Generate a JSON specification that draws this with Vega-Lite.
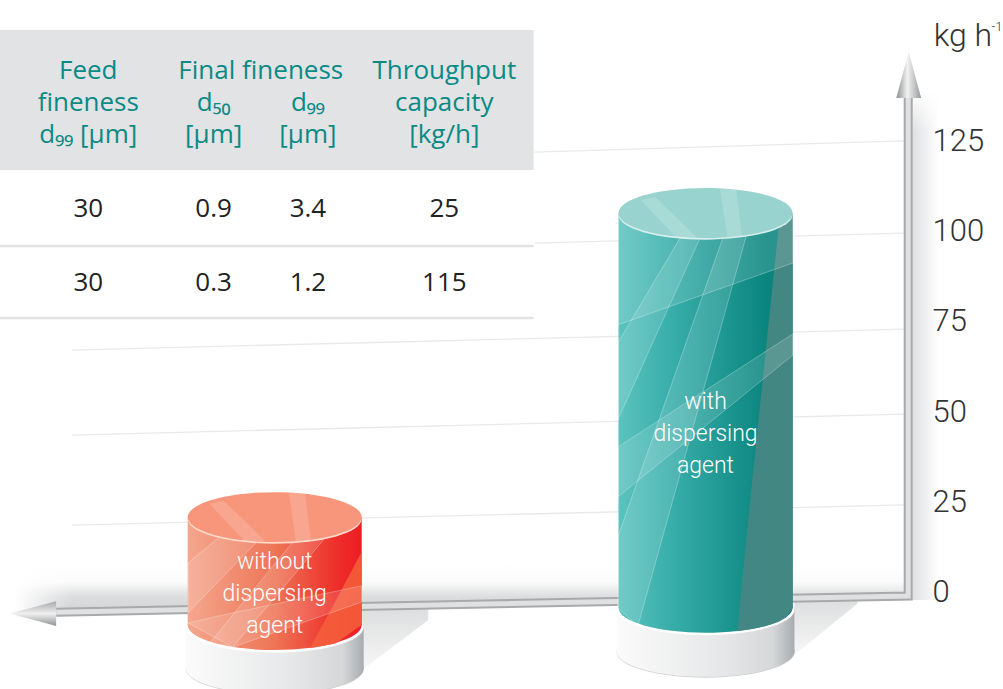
{"$schema":"https://vega.github.io/schema/vega-lite/v6.json","width":1003,"height":689,"autosize":{"type":"none"},"padding":0,"background":"white","config":{"view":{"stroke":null}},
"datasets":{
"cylinders":[{"sample":"without dispersing agent","throughput_shown":25,"top":20.8,"base":-9.2,"foot":-21.4,"label_at":8.3,"label":"without\ndispersing\nagent"},{"sample":"with dispersing agent","throughput_shown":115,"top":105.3,"base":-4.4,"foot":-16.7,"label_at":52.8,"label":"with\ndispersing\nagent"}],
"lightBands":[
{"band":"A","x":61.6,"top":69.2,"bottom":47.8},{"band":"A","x":67.8,"top":98.3,"bottom":86.1},{"band":"A","x":69.8,"top":98.3,"bottom":98.3},
{"band":"B","x":61.6,"top":15.3,"bottom":-4.4},{"band":"B","x":63.6,"top":31.1,"bottom":-9.4},{"band":"B","x":72.1,"top":98.6,"bottom":75.8},{"band":"B","x":74.4,"top":98.9,"bottom":98.9},
{"band":"C","x":61.6,"top":105.3,"bottom":74.2},{"band":"C","x":79.05,"top":105.3,"bottom":91.4},
{"band":"D","x":61.6,"top":40.3,"bottom":26.4},{"band":"D","x":79.05,"top":71.7,"bottom":65.8},
{"band":"F","x":18.75,"top":8.1,"bottom":-5.8},{"band":"F","x":21.9,"top":15.3,"bottom":3.3},{"band":"F","x":25.6,"top":13.9,"bottom":13.9},
{"band":"G","x":20.9,"top":-14.2,"bottom":-14.2},{"band":"G","x":23.2,"top":-6.4,"bottom":-15.3},{"band":"G","x":29.2,"top":13.9,"bottom":4.4},{"band":"G","x":32.4,"top":15,"bottom":15},
{"band":"H","x":18.75,"top":-8.6,"bottom":-8.6},{"band":"H","x":23.2,"top":-5.8,"bottom":-15.3},{"band":"H","x":36.05,"top":1.7,"bottom":-2.8}],
"lidBands":[
{"band":"S1","x":71.8,"top":111.9,"bottom":111.9},{"band":"S1","x":72.5,"top":111.9,"bottom":98.6},{"band":"S1","x":73.4,"top":111.9,"bottom":98.6},{"band":"S1","x":74,"top":98.6,"bottom":98.6},
{"band":"S2","x":63.9,"top":108.9,"bottom":108.9},{"band":"S2","x":65.3,"top":109.7,"bottom":104.7},{"band":"S2","x":67.5,"top":103.9,"bottom":98.3},{"band":"S2","x":69.5,"top":98.3,"bottom":98.3},
{"band":"S3","x":28.8,"top":27.5,"bottom":27.5},{"band":"S3","x":29.5,"top":27.5,"bottom":14.2},{"band":"S3","x":30.4,"top":27.5,"bottom":14.2},{"band":"S3","x":31,"top":14.2,"bottom":14.2},
{"band":"S4","x":20.9,"top":24.5,"bottom":24.5},{"band":"S4","x":22.3,"top":25.3,"bottom":20.3},{"band":"S4","x":24.5,"top":19.5,"bottom":13.9},{"band":"S4","x":26.5,"top":13.9,"bottom":13.9}],
"axisPath":[{"i":1,"x":5.6,"y":-5.6},{"i":2,"x":90.55,"y":-1.1},{"i":3,"x":90.55,"y":137.8}],
"tableText":[
{"x":8.8,"line":0,"text":"Feed"},{"x":8.8,"line":1,"text":"fineness"},{"x":8.8,"line":2,"text":"d₉₉ [µm]"},
{"x":26,"line":0,"text":"Final fineness"},{"x":21.3,"line":1,"text":"d₅₀"},{"x":21.3,"line":2,"text":"[µm]"},{"x":30.7,"line":1,"text":"d₉₉"},{"x":30.7,"line":2,"text":"[µm]"},
{"x":44.3,"line":0,"text":"Throughput"},{"x":44.3,"line":1,"text":"capacity"},{"x":44.3,"line":2,"text":"[kg/h]"}],
"tableRows":[
{"x":8.8,"line":4.31,"text":"30"},{"x":21.3,"line":4.31,"text":"0.9"},{"x":30.7,"line":4.31,"text":"3.4"},{"x":44.3,"line":4.31,"text":"25"},
{"x":8.8,"line":6.63,"text":"30"},{"x":21.3,"line":6.63,"text":"0.3"},{"x":30.7,"line":6.63,"text":"1.2"},{"x":44.3,"line":6.63,"text":"115"}]
},
"resolve":{"scale":{"x":"independent","y":"independent"},"axis":{"y":"independent"}},
"layer":[
{"layer":[
{"data":{"values":[{"x":1.5,"top":8,"bottom":-7},{"x":90.5,"top":8,"bottom":-1.1}]},"mark":{"type":"area","orient":"vertical","color":{"gradient":"linear","x1":0,"y1":0,"x2":0,"y2":1,"stops":[{"offset":0,"color":"#ffffff"},{"offset":0.35,"color":"#fbfbfb"},{"offset":0.62,"color":"#dcddde"},{"offset":1,"color":"#cfd0d1"}]}},"encoding":{"x":{"field":"x","type":"quantitative","axis":null,"scale":{"domain":[0,100],"range":[0,1003],"nice":false,"zero":false}},"y":{"field":"top","type":"quantitative","axis":null,"scale":{"domain":[-26.944,164.444],"range":[689,0],"nice":false,"zero":false}},"y2":{"field":"bottom"}}},
{"data":{"values":[{"x":1.4,"top":8.2,"bottom":-7.5},{"x":7,"top":8.2,"bottom":-7.5}]},"mark":{"type":"area","orient":"vertical","color":{"gradient":"linear","x1":0,"y1":0,"x2":1,"y2":0,"stops":[{"offset":0,"color":"#ffffff"},{"offset":1,"color":"rgba(255,255,255,0)"}]}},"encoding":{"x":{"field":"x","type":"quantitative","axis":null,"scale":{"domain":[0,100],"range":[0,1003],"nice":false,"zero":false}},"y":{"field":"top","type":"quantitative","axis":null,"scale":{"domain":[-26.944,164.444],"range":[689,0],"nice":false,"zero":false}},"y2":{"field":"bottom"}}},
{"data":{"values":[{"x":91,"top":139,"bottom":-2.2},{"x":93.6,"top":139,"bottom":-2.2}]},"mark":{"type":"area","orient":"vertical","color":{"gradient":"linear","x1":0,"y1":0,"x2":1,"y2":0,"stops":[{"offset":0,"color":"#dfe0e1"},{"offset":1,"color":"#ffffff"}]}},"encoding":{"x":{"field":"x","type":"quantitative","axis":null,"scale":{"domain":[0,100],"range":[0,1003],"nice":false,"zero":false}},"y":{"field":"top","type":"quantitative","axis":null,"scale":{"domain":[-26.944,164.444],"range":[689,0],"nice":false,"zero":false}},"y2":{"field":"bottom"}}},
{"data":{"values":[{"x":91,"top":139.5,"bottom":128},{"x":93.7,"top":139.5,"bottom":128}]},"mark":{"type":"area","orient":"vertical","color":{"gradient":"linear","x1":0,"y1":0,"x2":0,"y2":1,"stops":[{"offset":0,"color":"#ffffff"},{"offset":1,"color":"rgba(255,255,255,0)"}]}},"encoding":{"x":{"field":"x","type":"quantitative","axis":null,"scale":{"domain":[0,100],"range":[0,1003],"nice":false,"zero":false}},"y":{"field":"top","type":"quantitative","axis":null,"scale":{"domain":[-26.944,164.444],"range":[689,0],"nice":false,"zero":false}},"y2":{"field":"bottom"}}},
{"data":{"values":[{"band":"r","x":79.2,"top":-2.2,"bottom":-17.5},{"band":"r","x":85.5,"top":-2.6,"bottom":-3.2},{"band":"l","x":36.1,"top":-4.7,"bottom":-21.7},{"band":"l","x":42.7,"top":-4.7,"bottom":-7.8}]},"mark":{"type":"area","orient":"vertical","color":{"gradient":"linear","x1":0,"y1":0,"x2":0,"y2":1,"stops":[{"offset":0,"color":"#dddedf"},{"offset":1,"color":"#f7f7f7"}]}},"encoding":{"detail":{"field":"band"},"x":{"field":"x","type":"quantitative","axis":null,"scale":{"domain":[0,100],"range":[0,1003],"nice":false,"zero":false}},"y":{"field":"top","type":"quantitative","axis":null,"scale":{"domain":[-26.944,164.444],"range":[689,0],"nice":false,"zero":false}},"y2":{"field":"bottom"}}},
{"data":{"values":[{"tick":25,"end":7.2,"level":18.6},{"tick":25,"end":90.2,"level":24.2},{"tick":50,"end":7.2,"level":43.6},{"tick":50,"end":90.2,"level":49.4},{"tick":75,"end":7.2,"level":67.2},{"tick":75,"end":90.2,"level":73},{"tick":100,"end":53.3,"level":96.9},{"tick":100,"end":90.2,"level":99.7},{"tick":125,"end":53.3,"level":122.2},{"tick":125,"end":90.2,"level":125.3}]},"mark":{"type":"line","color":"#e8e9ea","strokeWidth":1.3},"encoding":{"detail":{"field":"tick"},"x":{"field":"end","type":"quantitative","axis":null,"scale":{"domain":[0,100],"range":[0,1003],"nice":false,"zero":false}},"y":{"field":"level","type":"quantitative","axis":null,"scale":{"domain":[-26.944,164.444],"range":[689,0],"nice":false,"zero":false}}}},
{"data":{"name":"axisPath"},"mark":{"type":"line","color":"#a7a9ab","strokeWidth":9,"strokeJoin":"miter"},"encoding":{"order":{"field":"i"},"x":{"field":"x","type":"quantitative","axis":null,"scale":{"domain":[0,100],"range":[0,1003],"nice":false,"zero":false}},"y":{"field":"y","type":"quantitative","axis":null,"scale":{"domain":[-26.944,164.444],"range":[689,0],"nice":false,"zero":false}}}},
{"data":{"name":"axisPath"},"mark":{"type":"line","color":"#dfe0e1","strokeWidth":5,"strokeJoin":"miter"},"encoding":{"order":{"field":"i"},"x":{"field":"x","type":"quantitative","axis":null,"scale":{"domain":[0,100],"range":[0,1003],"nice":false,"zero":false}},"y":{"field":"y","type":"quantitative","axis":null,"scale":{"domain":[-26.944,164.444],"range":[689,0],"nice":false,"zero":false}}}},
{"data":{"values":[{"x":90.6,"y":143.6}]},"mark":{"type":"point","filled":true,"opacity":1,"size":2116,"shape":"M0,-1 L0.54,1 L-0.54,1 Z","color":{"gradient":"linear","x1":0,"y1":0,"x2":1,"y2":0,"stops":[{"offset":0,"color":"#8b8d8f"},{"offset":0.45,"color":"#f2f2f2"},{"offset":1,"color":"#97999b"}]}},"encoding":{"x":{"field":"x","type":"quantitative","axis":null,"scale":{"domain":[0,100],"range":[0,1003],"nice":false,"zero":false}},"y":{"field":"y","type":"quantitative","axis":null,"scale":{"domain":[-26.944,164.444],"range":[689,0],"nice":false,"zero":false}}}},
{"data":{"values":[{"x":3.3,"y":-6}]},"mark":{"type":"point","filled":true,"opacity":1,"size":2116,"shape":"M-1,0 L1,-0.54 L1,0.54 Z","color":{"gradient":"linear","x1":0,"y1":0,"x2":0,"y2":1,"stops":[{"offset":0,"color":"#a4a6a8"},{"offset":0.5,"color":"#f0f0f0"},{"offset":1,"color":"#8f9193"}]}},"encoding":{"x":{"field":"x","type":"quantitative","axis":null,"scale":{"domain":[0,100],"range":[0,1003],"nice":false,"zero":false}},"y":{"field":"y","type":"quantitative","axis":null,"scale":{"domain":[-26.944,164.444],"range":[689,0],"nice":false,"zero":false}}}},
{"data":{"values":[{"x":96,"y":154.4,"text":"kg h","size":32},{"x":99.4,"y":157,"text":"-1","size":13}]},"mark":{"type":"text","font":"Roboto","fontWeight":300,"color":"#333333","baseline":"middle","align":"center"},"encoding":{"text":{"field":"text"},"size":{"field":"size","type":"quantitative","scale":null},"x":{"field":"x","type":"quantitative","axis":null,"scale":{"domain":[0,100],"range":[0,1003],"nice":false,"zero":false}},"y":{"field":"y","type":"quantitative","axis":null,"scale":{"domain":[-26.944,164.444],"range":[689,0],"nice":false,"zero":false}}}}
]},
{"data":{"values":[{"tick":0},{"tick":25},{"tick":50},{"tick":75},{"tick":100},{"tick":125}]},"mark":{"type":"point","opacity":0,"size":1},"encoding":{"y":{"field":"tick","type":"quantitative","scale":{"domain":[-26.944,164.444],"range":[689,0],"nice":false,"zero":false},"axis":{"orient":"right","zindex":1,"values":[0,25,50,75,100,125],"domain":false,"ticks":false,"grid":false,"title":null,"labelAlign":"left","labelPadding":-71,"labelFont":"Roboto","labelFontSize":31,"labelFontWeight":300,"labelColor":"#333333"}}}},
{"data":{"name":"cylinders"},"encoding":{"x":{"field":"sample","type":"nominal","axis":null,"scale":{"type":"point","padding":0,"domain":["without dispersing agent","with dispersing agent"],"range":[274.7,705.5]}}},"layer":[
{"mark":{"type":"point","filled":true,"opacity":1,"size":31684,"shape":"M-1,0 C-1,-0.158 -0.552,-0.287 0,-0.287 C0.552,-0.287 1,-0.158 1,0 C1,0.158 0.552,0.287 0,0.287 C-0.552,0.287 -1,0.158 -1,0 Z","color":"#cfd0d1"},"encoding":{"y":{"field":"foot","type":"quantitative","axis":null,"scale":{"domain":[-26.944,164.444],"range":[689,0],"nice":false,"zero":false}}}},
{"mark":{"type":"point","filled":true,"opacity":1,"size":31684,"shape":"M-1,-0.01 C-1,-0.168 -0.552,-0.297 0,-0.297 C0.552,-0.297 1,-0.168 1,-0.01 C1,0.148 0.552,0.277 0,0.277 C-0.552,0.277 -1,0.148 -1,-0.01 Z","color":{"gradient":"linear","x1":0,"y1":0,"x2":1,"y2":0,"stops":[{"offset":0,"color":"#fbfbfb"},{"offset":0.6,"color":"#e6e7e8"},{"offset":0.88,"color":"#d5d7d8"},{"offset":1,"color":"#a9acae"}]}},"encoding":{"y":{"field":"foot","type":"quantitative","axis":null,"scale":{"domain":[-26.944,164.444],"range":[689,0],"nice":false,"zero":false}}}},
{"mark":{"type":"bar","size":178,"color":{"gradient":"linear","x1":0,"y1":0,"x2":1,"y2":0,"stops":[{"offset":0,"color":"#fbfbfb"},{"offset":0.6,"color":"#e6e7e8"},{"offset":0.88,"color":"#d5d7d8"},{"offset":1,"color":"#a9acae"}]}},"encoding":{"y":{"field":"base","type":"quantitative","axis":null,"scale":{"domain":[-26.944,164.444],"range":[689,0],"nice":false,"zero":false}},"y2":{"field":"foot"}}},
{"mark":{"type":"point","filled":true,"opacity":1,"size":31684,"color":"#ffffff","shape":"M-1,0.02 C-1,-0.138 -0.552,-0.267 0,-0.267 C0.552,-0.267 1,-0.138 1,0.02 C1,0.178 0.552,0.307 0,0.307 C-0.552,0.307 -1,0.178 -1,0.02 Z"},"encoding":{"y":{"field":"base","type":"quantitative","axis":null,"scale":{"domain":[-26.944,164.444],"range":[689,0],"nice":false,"zero":false}}}},
{"transform":[{"filter":"datum.throughput_shown==25"}],"layer":[
{"mark":{"type":"point","filled":true,"opacity":1,"size":30276,"shape":"M-1,0 C-1,-0.158 -0.552,-0.287 0,-0.287 C0.552,-0.287 1,-0.158 1,0 C1,0.158 0.552,0.287 0,0.287 C-0.552,0.287 -1,0.158 -1,0 Z","color":{"gradient":"linear","x1":0,"y1":0,"x2":1,"y2":0,"stops":[{"offset":0,"color":"#f4a78e"},{"offset":0.5,"color":"#ee7556"},{"offset":0.85,"color":"#ee2f2a"},{"offset":1,"color":"#ed1c24"}]}},"encoding":{"y":{"field":"base","type":"quantitative","axis":null,"scale":{"domain":[-26.944,164.444],"range":[689,0],"nice":false,"zero":false}}}},
{"mark":{"type":"bar","size":174,"color":{"gradient":"linear","x1":0,"y1":0,"x2":1,"y2":0,"stops":[{"offset":0,"color":"#f4a78e"},{"offset":0.5,"color":"#ee7556"},{"offset":0.85,"color":"#ee2f2a"},{"offset":1,"color":"#ed1c24"}]}},"encoding":{"y":{"field":"top","type":"quantitative","axis":null,"scale":{"domain":[-26.944,164.444],"range":[689,0],"nice":false,"zero":false}},"y2":{"field":"base"}}}
]},
{"transform":[{"filter":"datum.throughput_shown==115"}],"layer":[
{"mark":{"type":"point","filled":true,"opacity":1,"size":30276,"shape":"M-1,0 C-1,-0.158 -0.552,-0.287 0,-0.287 C0.552,-0.287 1,-0.158 1,0 C1,0.158 0.552,0.287 0,0.287 C-0.552,0.287 -1,0.158 -1,0 Z","color":{"gradient":"linear","x1":0,"y1":0,"x2":1,"y2":0,"stops":[{"offset":0,"color":"#5cc3be"},{"offset":0.3,"color":"#38aeaa"},{"offset":0.85,"color":"#0a857e"},{"offset":1,"color":"#0a7f78"}]}},"encoding":{"y":{"field":"base","type":"quantitative","axis":null,"scale":{"domain":[-26.944,164.444],"range":[689,0],"nice":false,"zero":false}}}},
{"mark":{"type":"bar","size":174,"color":{"gradient":"linear","x1":0,"y1":0,"x2":1,"y2":0,"stops":[{"offset":0,"color":"#5cc3be"},{"offset":0.3,"color":"#38aeaa"},{"offset":0.85,"color":"#0a857e"},{"offset":1,"color":"#0a7f78"}]}},"encoding":{"y":{"field":"top","type":"quantitative","axis":null,"scale":{"domain":[-26.944,164.444],"range":[689,0],"nice":false,"zero":false}},"y2":{"field":"base"}}}
]}
]},
{"encoding":{"detail":{"field":"band"},"x":{"field":"x","type":"quantitative","axis":null,"scale":{"domain":[0,100],"range":[0,1003],"nice":false,"zero":false}},"y":{"field":"top","type":"quantitative","axis":null,"scale":{"domain":[-26.944,164.444],"range":[689,0],"nice":false,"zero":false}},"y2":{"field":"bottom"}},"layer":[
{"data":{"values":[{"band":"E","x":73.5,"top":-10.9,"bottom":-10.9},{"band":"E","x":75,"top":31.1,"bottom":-10.3},{"band":"E","x":76.3,"top":65.8,"bottom":-9.5},{"band":"E","x":77.6,"top":100.6,"bottom":-8.3},{"band":"E","x":78.4,"top":103,"bottom":-7},{"band":"E","x":79.05,"top":105.3,"bottom":-4.4}]},"mark":{"type":"area","orient":"vertical","color":"#468783","opacity":0.95}},
{"data":{"values":[{"band":"I","x":30.9,"top":-15.6,"bottom":-15.6},{"band":"I","x":33.4,"top":-2.8,"bottom":-14.4},{"band":"I","x":36.05,"top":11.1,"bottom":-9.2}]},"mark":{"type":"area","orient":"vertical","color":"#f4603c","opacity":0.85}},
{"data":{"name":"lightBands"},"mark":{"type":"area","orient":"vertical","fill":"#ffffff","fillOpacity":0.13,"stroke":"#ffffff","strokeOpacity":0.4,"strokeWidth":0.7}}
]},
{"data":{"name":"cylinders"},"encoding":{"x":{"field":"sample","type":"nominal","axis":null,"scale":{"type":"point","padding":0,"domain":["without dispersing agent","with dispersing agent"],"range":[274.7,705.5]}},"y":{"field":"top","type":"quantitative","axis":null,"scale":{"domain":[-26.944,164.444],"range":[689,0],"nice":false,"zero":false}}},"layer":[
{"transform":[{"filter":"datum.throughput_shown==25"}],"layer":[
{"mark":{"type":"point","filled":true,"opacity":1,"size":30276,"color":"#fcd9cb","shape":"M-1,0.02 C-1,-0.138 -0.552,-0.267 0,-0.267 C0.552,-0.267 1,-0.138 1,0.02 C1,0.178 0.552,0.307 0,0.307 C-0.552,0.307 -1,0.178 -1,0.02 Z"}},
{"mark":{"type":"point","filled":true,"opacity":1,"size":30276,"shape":"M-1,0 C-1,-0.158 -0.552,-0.287 0,-0.287 C0.552,-0.287 1,-0.158 1,0 C1,0.158 0.552,0.287 0,0.287 C-0.552,0.287 -1,0.158 -1,0 Z","color":"#f8967b"}}
]},
{"transform":[{"filter":"datum.throughput_shown==115"}],"layer":[
{"mark":{"type":"point","filled":true,"opacity":1,"size":30276,"color":"#d6eeec","shape":"M-1,0.02 C-1,-0.138 -0.552,-0.267 0,-0.267 C0.552,-0.267 1,-0.138 1,0.02 C1,0.178 0.552,0.307 0,0.307 C-0.552,0.307 -1,0.178 -1,0.02 Z"}},
{"mark":{"type":"point","filled":true,"opacity":1,"size":30276,"shape":"M-1,0 C-1,-0.158 -0.552,-0.287 0,-0.287 C0.552,-0.287 1,-0.158 1,0 C1,0.158 0.552,0.287 0,0.287 C-0.552,0.287 -1,0.158 -1,0 Z","color":"#98d3cf"}}
]}
]},
{"data":{"name":"lidBands"},"mark":{"type":"area","orient":"vertical","color":"#ffffff","opacity":0.16},"encoding":{"detail":{"field":"band"},"x":{"field":"x","type":"quantitative","axis":null,"scale":{"domain":[0,100],"range":[0,1003],"nice":false,"zero":false}},"y":{"field":"top","type":"quantitative","axis":null,"scale":{"domain":[-26.944,164.444],"range":[689,0],"nice":false,"zero":false}},"y2":{"field":"bottom"}}},
{"data":{"name":"cylinders"},"mark":{"type":"text","font":"Roboto","fontWeight":300,"fontSize":23,"color":"#ffffff","lineBreak":"\n","lineHeight":32,"align":"center","baseline":"middle"},"encoding":{"text":{"field":"label"},"x":{"field":"sample","type":"nominal","axis":null,"scale":{"type":"point","padding":0,"domain":["without dispersing agent","with dispersing agent"],"range":[274.7,705.5]}},"y":{"field":"label_at","type":"quantitative","axis":null,"scale":{"domain":[-26.944,164.444],"range":[689,0],"nice":false,"zero":false}}}},
{"encoding":{"x":{"field":"x","type":"quantitative","axis":null,"scale":{"domain":[0,100],"range":[0,1003],"nice":false,"zero":false}},"y":{"field":"line","type":"quantitative","axis":null,"scale":{"domain":[-2.22,19.31],"range":[0,689],"nice":false,"zero":false}}},"layer":[
{"data":{"values":[{"x":0,"x2":53.2,"line":-1.28,"line2":3.09}]},"mark":{"type":"rect","color":"#e1e3e4"},"encoding":{"x2":{"field":"x2"},"y2":{"field":"line2"}}},
{"data":{"values":[{"rule":1,"x":0,"line":5.47},{"rule":1,"x":53.2,"line":5.47},{"rule":2,"x":0,"line":7.72},{"rule":2,"x":53.2,"line":7.72}]},"mark":{"type":"line","color":"#e1e3e4","strokeWidth":2.5},"encoding":{"detail":{"field":"rule"}}},
{"data":{"name":"tableText"},"mark":{"type":"text","font":"Open Sans","fontSize":26,"color":"#0a8a84","align":"center","baseline":"middle"},"encoding":{"text":{"field":"text"}}},
{"data":{"name":"tableRows"},"mark":{"type":"text","font":"Open Sans","fontSize":26,"color":"#222222","align":"center","baseline":"middle"},"encoding":{"text":{"field":"text"}}}
]}
]}
